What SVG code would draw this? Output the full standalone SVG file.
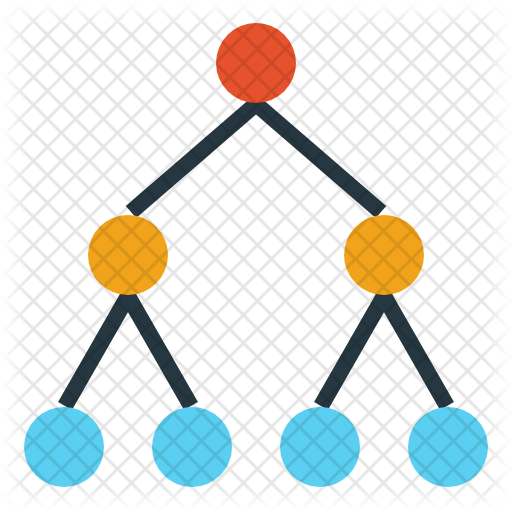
<svg xmlns="http://www.w3.org/2000/svg" width="512" height="512" viewBox="0 0 512 512">
  <defs>
    <style>
      .edge { fill: none; stroke: #263741; stroke-width: 16; stroke-linejoin: round; stroke-linecap: butt; }
      .root { fill: #E5522B; }
      .mid { fill: #F0A31B; }
      .leaf { fill: #5BCFF1; }
    </style>
    <pattern id="grid" patternUnits="userSpaceOnUse" width="19.799" height="19.799" patternTransform="translate(271.5,245) rotate(45)">
      <path d="M0,9.9 H19.799 M9.9,0 V19.799" stroke="#000" stroke-opacity="0.1" stroke-width="2.8" fill="none"/>
    </pattern>
    <filter id="soft" x="-10%" y="-10%" width="120%" height="120%">
      <feGaussianBlur stdDeviation="9"/>
    </filter>
    <mask id="fade" maskUnits="userSpaceOnUse" x="0" y="0" width="512" height="512">
      <rect x="14" y="14" width="484" height="484" fill="#fff" filter="url(#soft)"/>
    </mask>
  </defs>
  <rect width="512" height="512" fill="#fff"/>
  <g id="connectors">
    <polyline class="edge" points="131,212 256,104 381,212"/>
    <polyline class="edge" points="65,406 128,296 191,406"/>
    <polyline class="edge" points="321,406 384,296 447,406"/>
  </g>
  <g id="node-root"><circle class="root" cx="256" cy="63" r="40"/></g>
  <g id="node-mid-left"><circle class="mid" cx="128" cy="255" r="40"/></g>
  <g id="node-mid-right"><circle class="mid" cx="384" cy="255" r="40"/></g>
  <g id="node-leaf-1"><circle class="leaf" cx="64" cy="447" r="40"/></g>
  <g id="node-leaf-2"><circle class="leaf" cx="192" cy="447" r="40"/></g>
  <g id="node-leaf-3"><circle class="leaf" cx="320" cy="447" r="40"/></g>
  <g id="node-leaf-4"><circle class="leaf" cx="448" cy="447" r="40"/></g>
  <rect width="512" height="512" fill="url(#grid)" mask="url(#fade)"/>
</svg>
